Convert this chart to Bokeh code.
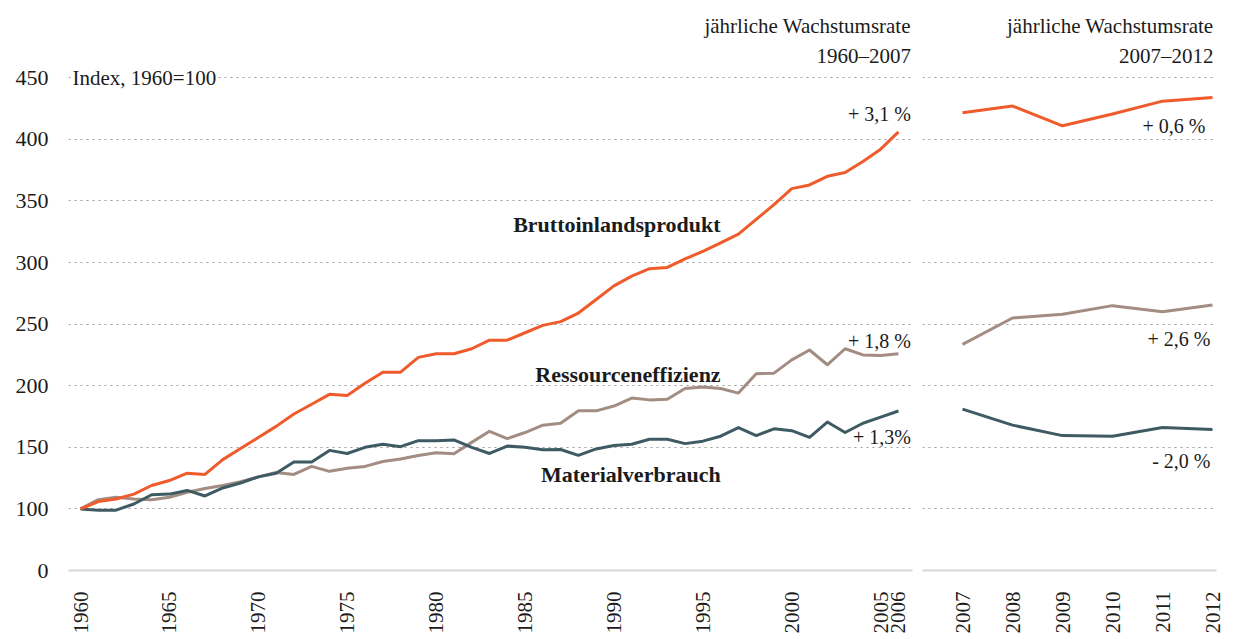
from math import pi
from bokeh.plotting import figure
from bokeh.layouts import row
from bokeh.models import Range1d, FixedTicker, ColumnDataSource, Label
from bokeh.core.properties import value
from bokeh.embed import file_html
from bokeh.resources import INLINE

# ---------------- data ----------------
years_a = list(range(1960, 2007))
bip_a = [100, 106, 108, 112, 119, 123, 129, 128, 140, 149,
         158, 167, 177, 185, 193, 192, 202, 211, 211, 223,
         226, 226, 230, 237, 237, 243, 249, 252, 259, 270,
         281, 289, 295, 296, 303, 309, 316, 323, 335, 347,
         360, 363, 370, 373, 382, 392, 406]
res_a = [100, 107.5, 109.5, 108, 107.5, 109.5, 113.5, 116.5, 119, 122,
         126, 129.5, 128, 134.5, 130.5, 133, 134.5, 138.5, 140.5, 143.3,
         145.5, 144.8, 154, 163, 157, 162, 168, 169.5, 179.6, 179.6,
         183.5, 190, 188.5, 189, 197.7, 199, 197.7, 194, 209.7, 210.2,
         221, 229, 217, 230, 225, 224.5, 226]
mat_a = [100, 99, 99, 104, 111.5, 112, 115, 110.5, 117, 121,
         126, 129, 138, 138, 147.5, 145, 150, 152.5, 150.5, 155.4,
         155.4, 156, 150, 145, 151, 150, 148, 148.2, 143.5, 148.7,
         151.5, 152.5, 156.5, 156.5, 153, 155, 159, 166, 159.5, 165,
         163.5, 158, 170.5, 162, 169.5, 174.5, 179.5]

years_b = [2007, 2008, 2009, 2010, 2011, 2012]
bip_b = [421.5, 427, 411, 420.5, 431, 434]
res_b = [233.5, 255, 258, 265, 260, 265.5]
mat_b = [181, 168, 159.5, 159, 166, 164.5]

y_ticks = [50, 100, 150, 200, 250, 300, 350, 400, 450]
y_tick_labels = {50: "0"}
x_ticks_a = [1960, 1965, 1970, 1975, 1980, 1985, 1990, 1995, 2000, 2005, 2006]
x_ticks_b = years_b

series_names = ["Bruttoinlandsprodukt", "Ressourceneffizienz", "Materialverbrauch"]
rates_a = ["+ 3,1 %", "+ 1,8 %", "+ 1,3%"]
rates_b = ["+ 0,6  %", "+ 2,6 %", "- 2,0 %"]
header_title = "jährliche Wachstumsrate"
header_a = "1960–2007"
header_b = "2007–2012"
index_note = "Index, 1960=100"

# ---------------- style ----------------
FONT = "Liberation Serif"
C_BIP = "#EF5B2B"
C_RES = "#A38D83"
C_MAT = "#3E5B63"
TXT = "#1b1b1b"
GRID = "#9c9c9c"

Y0, Y1 = 50, 506.2
TOP = 8
BOTTOM = 65
HEIGHT = TOP + 563 + BOTTOM


def base_fig(width, x_range, left, right, show_y):
    p = figure(width=width, height=HEIGHT, x_range=x_range, y_range=Range1d(Y0, Y1),
               output_backend="svg", toolbar_location=None,
               min_border_left=left, min_border_right=right,
               min_border_top=TOP, min_border_bottom=BOTTOM,
               y_axis_location="left" if show_y else None)
    p.outline_line_color = None
    p.background_fill_color = "white"
    p.border_fill_color = "white"
    p.xgrid.visible = False
    p.ygrid.ticker = FixedTicker(ticks=[t for t in y_ticks if t > 50])
    p.ygrid.grid_line_color = GRID
    p.ygrid.grid_line_dash = "2 4"
    p.ygrid.grid_line_width = 1.2
    xa = p.xaxis[0]
    xa.axis_line_color = "#d6d6d6"
    xa.axis_line_width = 2
    xa.major_tick_line_color = None
    xa.minor_tick_line_color = None
    xa.major_tick_out = 0
    xa.major_label_orientation = pi / 2
    xa.major_label_standoff = 21
    xa.major_label_text_font = FONT
    xa.major_label_text_font_size = "21px"
    xa.major_label_text_color = TXT
    if show_y:
        ya = p.yaxis[0]
        ya.ticker = FixedTicker(ticks=y_ticks)
        ya.major_label_overrides = y_tick_labels
        ya.axis_line_color = None
        ya.major_tick_line_color = None
        ya.minor_tick_line_color = None
        ya.major_tick_out = 0
        ya.major_label_standoff = 20
        ya.major_label_text_font = FONT
        ya.major_label_text_font_size = "22px"
        ya.major_label_text_color = TXT
    return p


# ---------------- left panel ----------------
p1 = base_fig(916, Range1d(1959.325, 2006.79), 68, 4, True)
p1.xaxis[0].ticker = FixedTicker(ticks=x_ticks_a)

src_a = ColumnDataSource(dict(x=years_a, bip=bip_a, res=res_a, mat=mat_a))
p1.line("x", "res", source=src_a, color=C_RES, line_width=3, line_join="round")
p1.line("x", "mat", source=src_a, color=C_MAT, line_width=3, line_join="round")
p1.line("x", "bip", source=src_a, color=C_BIP, line_width=3, line_join="round")

# series names (bold)
p1.text(x=[1996, 1996, 1996], y=[330.9, 209.3, 128.3], text=series_names,
        text_font=value(FONT), text_font_style="bold", text_font_size="22px",
        text_align="right", text_baseline="middle", text_color=TXT)
# growth rates
p1.text(x=[2006.7] * 3, y=[420.8, 236.0, 158.3], text=rates_a,
        text_font=value(FONT), text_font_size="20px",
        text_align="right", text_baseline="middle", text_color=TXT)
# header
p1.text(x=[2006.7, 2006.7], y=[492.1, 467.8], text=[header_title, header_a],
        text_font=value(FONT), text_font_size="21px",
        text_align="right", text_baseline="middle", text_color=TXT)
# index note with white background masking the gridline
p1.add_layout(Label(x=1959.55, y=450, text=index_note, text_font=FONT,
                    text_font_size="21px", text_baseline="middle", text_align="left",
                    text_color=TXT, background_fill_color="white",
                    background_fill_alpha=1.0))

# ---------------- right panel ----------------
p2 = base_fig(312, Range1d(2006.2, 2012.08), 6, 12, False)
p2.xaxis[0].ticker = FixedTicker(ticks=x_ticks_b)

src_b = ColumnDataSource(dict(x=years_b, bip=bip_b, res=res_b, mat=mat_b))
p2.line("x", "res", source=src_b, color=C_RES, line_width=3, line_join="round")
p2.line("x", "mat", source=src_b, color=C_MAT, line_width=3, line_join="round")
p2.line("x", "bip", source=src_b, color=C_BIP, line_width=3, line_join="round")

p2.text(x=[2011.96] * 3, y=[411.0, 237.7, 138.8], text=rates_b,
        text_font=value(FONT), text_font_size="20px",
        text_align="right", text_baseline="middle", text_color=TXT)
p2.text(x=[2012.02, 2012.02], y=[492.1, 467.8], text=[header_title, header_b],
        text_font=value(FONT), text_font_size="21px",
        text_align="right", text_baseline="middle", text_color=TXT)

layout = row(p1, p2, spacing=0)
open("out.html", "w").write(file_html(layout, INLINE))
